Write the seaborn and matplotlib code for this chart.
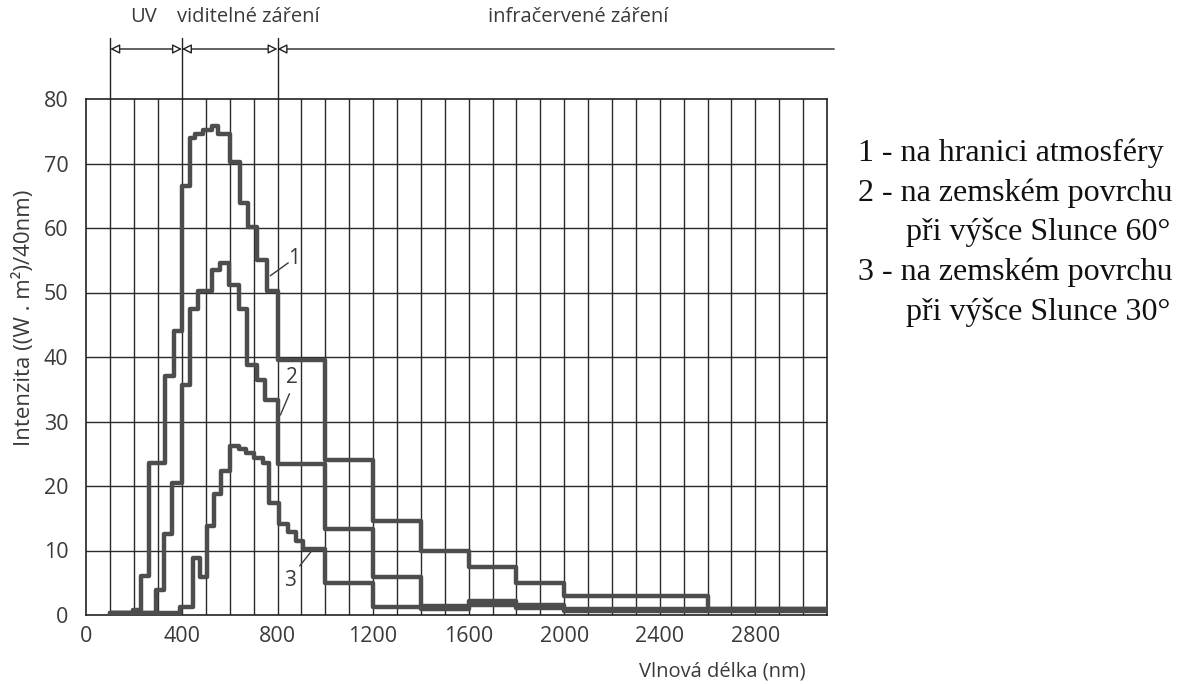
import numpy as np
import pandas as pd
import matplotlib
matplotlib.use("Agg")
import matplotlib.pyplot as plt
import matplotlib.transforms as mtransforms
import seaborn as sns

# ---- data (step curves: bin edges in nm, intensity per bin) ----
c1_edges = [100, 195, 230, 260, 330, 365, 400, 433, 455, 490, 525, 552, 600, 643, 678,
            713, 755, 800, 1000, 1200, 1400, 1600, 1800, 2000, 2600, 3100]
c1_vals = [0.3, 0.8, 6, 23.5, 37, 44, 66.5, 74, 74.6, 75.2, 75.8, 74.6, 70.2, 63.8,
           60.2, 55.1, 50.2, 39.6, 24, 14.6, 10, 7.4, 5, 3, 1]

c2_edges = [100, 290, 323, 358, 400, 433, 468, 524, 560, 595, 637, 672, 714, 749, 800,
            1000, 1200, 1400, 1600, 1800, 2000, 3100]
c2_vals = [0.3, 3.8, 12.6, 20.5, 35.7, 47.4, 50.2, 53.5, 54.6, 51.2, 47.4, 38.7, 36.5,
           33.3, 23.4, 13.4, 5.9, 1.4, 2.2, 1.6, 0.9]

c3_edges = [100, 390, 445, 475, 505, 535, 565, 600, 640, 668, 703, 738, 765, 808, 843,
            877, 905, 1000, 1200, 1400, 1600, 1800, 2000, 3100]
c3_vals = [0.3, 1.3, 8.8, 5.9, 13.8, 18.7, 22.3, 26.2, 25.8, 25.1, 24.4, 23.6, 17.3,
           14.1, 12.8, 11.5, 10.3, 4.9, 1.2, 1.0, 1.6, 1.1, 0.6]

curve_names = ["1", "2", "3"]
x_ticks = [0, 400, 800, 1200, 1600, 2000, 2400, 2800]
y_ticks = [0, 10, 20, 30, 40, 50, 60, 70, 80]
band_edges = [100, 400, 800]
band_labels = ["UV", "viditelné záření", "infračervené záření"]
legend_lines = ["1 - na hranici atmosféry", "2 - na zemském povrchu",
                "při výšce Slunce 60°", "3 - na zemském povrchu", "při výšce Slunce 30°"]

# ---- build long table ----
rows = []
for name, edges, vals in zip(curve_names, [c1_edges, c2_edges, c3_edges],
                             [c1_vals, c2_vals, c3_vals]):
    ys = list(vals) + [vals[-1]]
    for x, y in zip(edges, ys):
        rows.append({"curve": name, "x": x, "y": y})
df = pd.DataFrame(rows)

sns.set_style("white")
plt.rcParams["font.family"] = ["Open Sans", "DejaVu Sans"]

W, H = 1183, 684
fig = plt.figure(figsize=(W / 100, H / 100), dpi=100)
ax = fig.add_axes([86.4 / W, 69 / H, (827 - 86.4) / W, 516 / H])

line_col = "#4d4d4d"
grid_col = "#2a2a2a"
text_col = "#3a3a3a"

# grid
for gx in range(100, 3100, 100):
    ax.axvline(gx, color=grid_col, lw=1.0, zorder=1)
for gy in range(10, 80, 10):
    ax.axhline(gy, color=grid_col, lw=1.0, zorder=1)

sns.lineplot(data=df, x="x", y="y", hue="curve", palette=[line_col] * 3,
             estimator=None, sort=False, drawstyle="steps-post", linewidth=3.2,
             legend=False, ax=ax, zorder=3)

ax.set_xlim(0, 3100)
ax.set_ylim(0, 80)
ax.set_xticks(x_ticks)
ax.set_yticks(y_ticks)
ax.tick_params(axis="both", direction="out", length=5, width=1, color="#333333",
               labelsize=15.5, labelcolor=text_col, pad=8)
ax.tick_params(axis="x", pad=3)
for s in ax.spines.values():
    s.set_color("#222222")
    s.set_linewidth(1.2)
ax.set_xlabel("")
ax.set_ylabel("")

fig.text(24 / W, 1 - 318 / H, "Intenzita ((W . m²)/40nm)", rotation=90,
         ha="center", va="center", fontsize=16, color=text_col)
fig.text(806 / W, 1 - 672 / H, "Vlnová délka (nm)", ha="right", va="center",
         fontsize=14.5, color=text_col)

# curve labels with leader lines
lab_kw = dict(fontsize=15, color=text_col, ha="center", va="center")
ax.text(868, 55.3, "1", **lab_kw)
ax.plot([770, 845], [52.6, 54.6], color=text_col, lw=1)
ax.text(860, 36.8, "2", **lab_kw)
ax.plot([812, 850], [31.0, 34.3], color=text_col, lw=1)
ax.text(852, 5.4, "3", **lab_kw)
ax.plot([893, 942], [7.6, 9.9], color=text_col, lw=1)

# top band annotation
trans = mtransforms.blended_transform_factory(ax.transData, ax.transAxes)
y_arrow = (615 - 49) / 516
y_vtop = (615 - 38) / 516
y_text = (615 - 17) / 516
for bx in band_edges:
    ax.plot([bx, bx], [1.0, y_vtop], transform=trans, color="#222222", lw=1,
            clip_on=False)
arrow_kw = dict(arrowstyle="<|-|>", fc="white", ec="#222222", lw=1,
                mutation_scale=14, shrinkA=0, shrinkB=0)
ax.annotate("", xy=(100, y_arrow), xytext=(400, y_arrow), xycoords=trans,
            textcoords=trans, arrowprops=arrow_kw, annotation_clip=False)
ax.annotate("", xy=(400, y_arrow), xytext=(800, y_arrow), xycoords=trans,
            textcoords=trans, arrowprops=arrow_kw, annotation_clip=False)
ax.annotate("", xy=(800, y_arrow), xytext=(3130, y_arrow), xycoords=trans,
            textcoords=trans, annotation_clip=False,
            arrowprops=dict(arrowstyle="-|>", fc="white", ec="#222222", lw=1,
                            mutation_scale=14, shrinkA=0, shrinkB=0))
band_x = [241, 676, 2057]
for bx, bl in zip(band_x, band_labels):
    ax.text(bx, y_text, bl, transform=trans, ha="center", va="center",
            fontsize=14.5, color=text_col, clip_on=False)

# legend text on the right
leg_y = [153, 193, 232, 272, 312]
leg_x = [858, 858, 906, 858, 906]
for lx, ly, txt in zip(leg_x, leg_y, legend_lines):
    fig.text(lx / W, 1 - ly / H, txt, ha="left", va="center",
             fontsize=23, family=["Liberation Serif", "DejaVu Serif"], color="#111111")

fig.savefig("out.png", dpi=100)
